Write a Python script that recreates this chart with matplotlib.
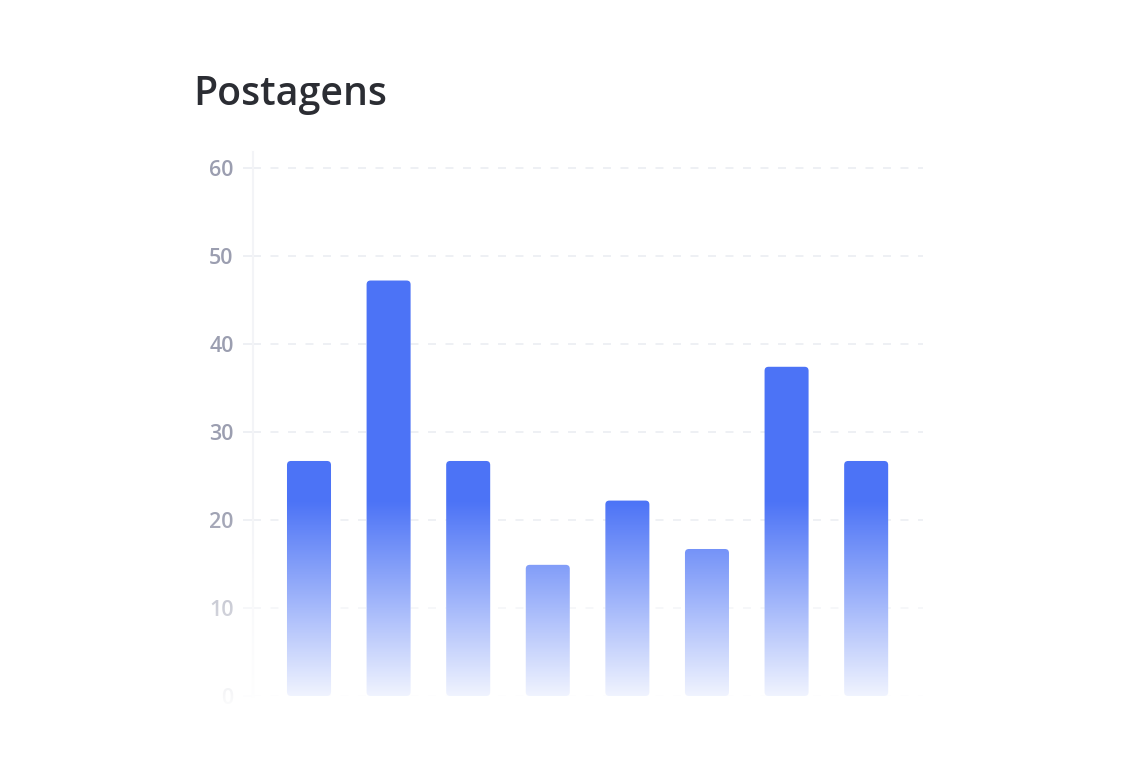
import numpy as np
import matplotlib
matplotlib.use("Agg")
from matplotlib import pyplot as plt
from matplotlib.patches import FancyBboxPatch

categories = ["1", "2", "3", "4", "5", "6", "7", "8"]
postagens = [26.7, 47.2, 26.7, 14.9, 22.2, 16.7, 37.4, 26.7]
y_ticks = [0, 10, 20, 30, 40, 50, 60]

BAR_COLOR = "#4c73f6"
GRID_COLOR = "#eef0f4"
LABEL_COLOR = "#9b9eb0"
FADE_TOP = 22.2      # value where the white fade starts
FADE_MAX = 0.92      # white opacity at value 0

plt.rcParams['font.family'] = ['Open Sans', 'DejaVu Sans']

fig = plt.figure(figsize=(11.4, 7.6), dpi=100)
ax = fig.add_axes([253 / 1140, 64 / 760, 670 / 1140, 544 / 760])

x = np.arange(len(categories))
xlim = (-0.7035, 7.714)
ylim = (0, 61.8)

# rounded bars: keep corners circular despite different x/y scales
px_x = 670 / (xlim[1] - xlim[0])
px_y = 544 / (ylim[1] - ylim[0])
radius_px = 4
width = 0.553
for xi, v in zip(x, postagens):
    box = FancyBboxPatch((xi - width / 2, 0), width, v,
                         boxstyle="round,pad=0,rounding_size=%f" % (radius_px / px_x),
                         mutation_aspect=px_x / px_y,
                         facecolor=BAR_COLOR, edgecolor="none", zorder=3)
    ax.add_patch(box)

ax.set_yticks(y_ticks)
ax.set_xticks([])
ax.grid(axis="y", color=GRID_COLOR, linewidth=1.4, linestyle=(0, (4.1, 4.9)), zorder=1)
ax.tick_params(axis="y", length=7, width=1.4, color=GRID_COLOR, pad=7,
               labelsize=15.5, labelcolor=LABEL_COLOR)
for lab in ax.get_yticklabels():
    lab.set_fontweight("semibold")

for side in ["top", "right", "bottom"]:
    ax.spines[side].set_visible(False)
ax.spines["left"].set_color("#f3f4f7")
ax.spines["left"].set_linewidth(1.5)

# white fade over the lower part (bars and labels)
ybot = -1.5
n = 200
ys = np.linspace(FADE_TOP, ybot, n)
alpha = np.clip((FADE_TOP - ys) / FADE_TOP * FADE_MAX, 0, 1)
fade = np.ones((n, 1, 4))
fade[:, 0, 3] = alpha
ax.imshow(fade, extent=(-1.5, xlim[1], ybot, FADE_TOP), aspect="auto",
          interpolation="bilinear", zorder=10, clip_on=False)
ax.set_xlim(*xlim)
ax.set_ylim(*ylim)

fig.text(193 / 1140, (760 - 105) / 760, "Postagens", fontsize=28.3,
         fontweight="semibold", color="#2b2d33", va="baseline", ha="left")

fig.savefig("out.png", dpi=100, facecolor="white")
